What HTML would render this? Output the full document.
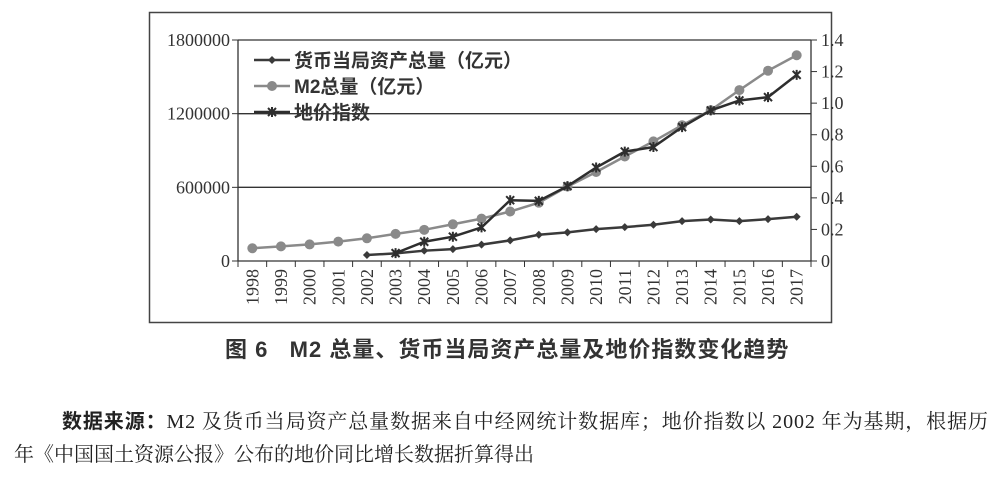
<!DOCTYPE html>
<html><head><meta charset="utf-8">
<style>
body{margin:0;background:#fff;width:1000px;height:477px;overflow:hidden;font-family:"Liberation Serif","Noto Serif CJK SC",serif;}
.t{position:absolute;white-space:nowrap;color:#222;}
</style></head><body>
<svg id="chart" width="1000" height="330" style="position:absolute;left:0;top:0" font-family="Liberation Serif, Noto Serif CJK SC, serif">
<rect x="149.5" y="12.5" width="682" height="310" fill="none" stroke="#444" stroke-width="1.5"/>
<g id="g"></g>
</svg>
<div class="t" style="left:225px;top:332px;font-size:22px;letter-spacing:1px;font-weight:bold;font-family:'Liberation Sans','Noto Sans CJK SC',sans-serif;color:#333;">图 6&nbsp;&nbsp;&nbsp;M2 总量、货币当局资产总量及地价指数变化趋势</div>
<div class="t" style="left:62px;top:405px;font-size:20px;letter-spacing:0.9px;"><b style="font-family:'Liberation Sans','Noto Sans CJK SC',sans-serif;">数据来源：</b>M2 及货币当局资产总量数据来自中经网统计数据库；地价指数以 2002 年为基期，根据历</div>
<div class="t" style="left:14px;top:438px;font-size:20px;">年《中国国土资源公报》公布的地价同比增长数据折算得出</div>
<script>
const years=[1998,1999,2000,2001,2002,2003,2004,2005,2006,2007,2008,2009,2010,2011,2012,2013,2014,2015,2016,2017];
const m2=[104000,119000,135000,158000,185000,221000,254000,299000,345000,403000,475000,606000,725000,851000,974000,1106000,1228000,1392000,1550000,1676000];
const assets=[null,null,null,null,49000,62000,84000,97000,133000,168000,214000,233000,260000,276000,295000,325000,338000,325000,341000,360000];
const landIdx=[null,null,null,null,null,0.05,0.122,0.154,0.213,0.385,0.381,0.474,0.592,0.693,0.722,0.848,0.954,1.017,1.038,1.179];
const leftTicks=[0,600000,1200000,1800000];
const rightTicks=[0,0.2,0.4,0.6,0.8,1.0,1.2,1.4];
const rightLabels=["0","0.2","0.4","0.6","0.8","1.0","1.2","1.4"];
const X0=238,X1=811,Y0=261,Y1=40;
const xs=i=>X0+(i+0.5)*(X1-X0)/years.length;
const yl=v=>Y0-(v/1800000)*(Y0-Y1);
const yr=v=>Y0-(v/1.4)*(Y0-Y1);
const g=document.getElementById('g');const NS='http://www.w3.org/2000/svg';
function mk(t,a){const e=document.createElementNS(NS,t);for(const k in a)e.setAttribute(k,a[k]);g.appendChild(e);return e;}
leftTicks.forEach(v=>{
 const y=yl(v);
 if(v>0){const l=mk('line',{x1:X0,x2:X1,y1:y,y2:y,stroke:'#333','stroke-width':1.3});
 
 }
 mk('line',{x1:X0-6,x2:X0,y1:y,y2:y,stroke:'#333'});
 const t=mk('text',{x:X0-8,y:y+6,'text-anchor':'end','font-size':18,fill:'#333'});t.textContent=v;
 
 
});
rightTicks.forEach((v,i)=>{
 const y=yr(v);
 mk('line',{x1:X1,x2:X1+6,y1:y,y2:y,stroke:'#333'});
 const t=mk('text',{x:X1+10,y:y+6,'font-size':18,fill:'#333'});t.textContent=rightLabels[i];
 
 
});
mk('line',{x1:X0,x2:X0,y1:Y1,y2:Y0,stroke:'#333','stroke-width':1.3});
mk('line',{x1:X1,x2:X1,y1:Y1,y2:Y0,stroke:'#333','stroke-width':1.3});
mk('line',{x1:X0,x2:X1,y1:Y0,y2:Y0,stroke:'#333','stroke-width':1.3});
for(let i=0;i<=years.length;i++){const x=X0+i*(X1-X0)/years.length;mk('line',{x1:x,x2:x,y1:Y0,y2:Y0+6,stroke:'#333'});}
years.forEach((yv,i)=>{const x=xs(i);const t=mk('text',{x:x+6,y:Y0+8,'font-size':18,fill:'#333','text-anchor':'end',transform:`rotate(-90 ${x+6} ${Y0+8})`});t.textContent=yv;
 
 });
function series(vals,yf,color,marker,name){
 let d='';vals.forEach((v,i)=>{if(v==null)return;d+=(d?'L':'M')+xs(i)+','+yf(v);});
 const p=mk('path',{d:d,fill:'none',stroke:color,'stroke-width':2.5});
 
 
 vals.forEach((v,i)=>{if(v==null)return;drawMarker(xs(i),yf(v),color,marker);});
}
function drawMarker(x,y,color,m){
 if(m==='circle')mk('circle',{cx:x,cy:y,r:5,fill:color});
 else if(m==='diamond')mk('path',{d:`M${x},${y-4}L${x+4},${y}L${x},${y+4}L${x-4},${y}Z`,fill:color});
 else{mk('path',{d:`M${x-4},${y-4}L${x+4},${y+4}M${x-4},${y+4}L${x+4},${y-4}M${x},${y-5}L${x},${y+5}`,stroke:color,'stroke-width':2});}
}
series(m2,yl,'#8a8a8a','circle','m2');
series(assets,yl,'#3a3a3a','diamond','assets');
series(landIdx,yr,'#2e2e2e','star','land-index');
const leg=[['货币当局资产总量（亿元）','#3a3a3a','diamond',60],['M2总量（亿元）','#8a8a8a','circle',86],['地价指数','#2e2e2e','star',112]];
leg.forEach(l=>{
 mk('line',{x1:254,x2:290,y1:l[3],y2:l[3],stroke:l[1],'stroke-width':2.5});
 drawMarker(272,l[3],l[1],l[2]);
 const t=mk('text',{x:294,y:l[3]+7,'font-size':19,fill:'#333','font-family':'Liberation Sans, Noto Sans CJK SC, sans-serif','font-weight':'bold'});t.textContent=l[0];
 
 
});
</script>
</body></html>
